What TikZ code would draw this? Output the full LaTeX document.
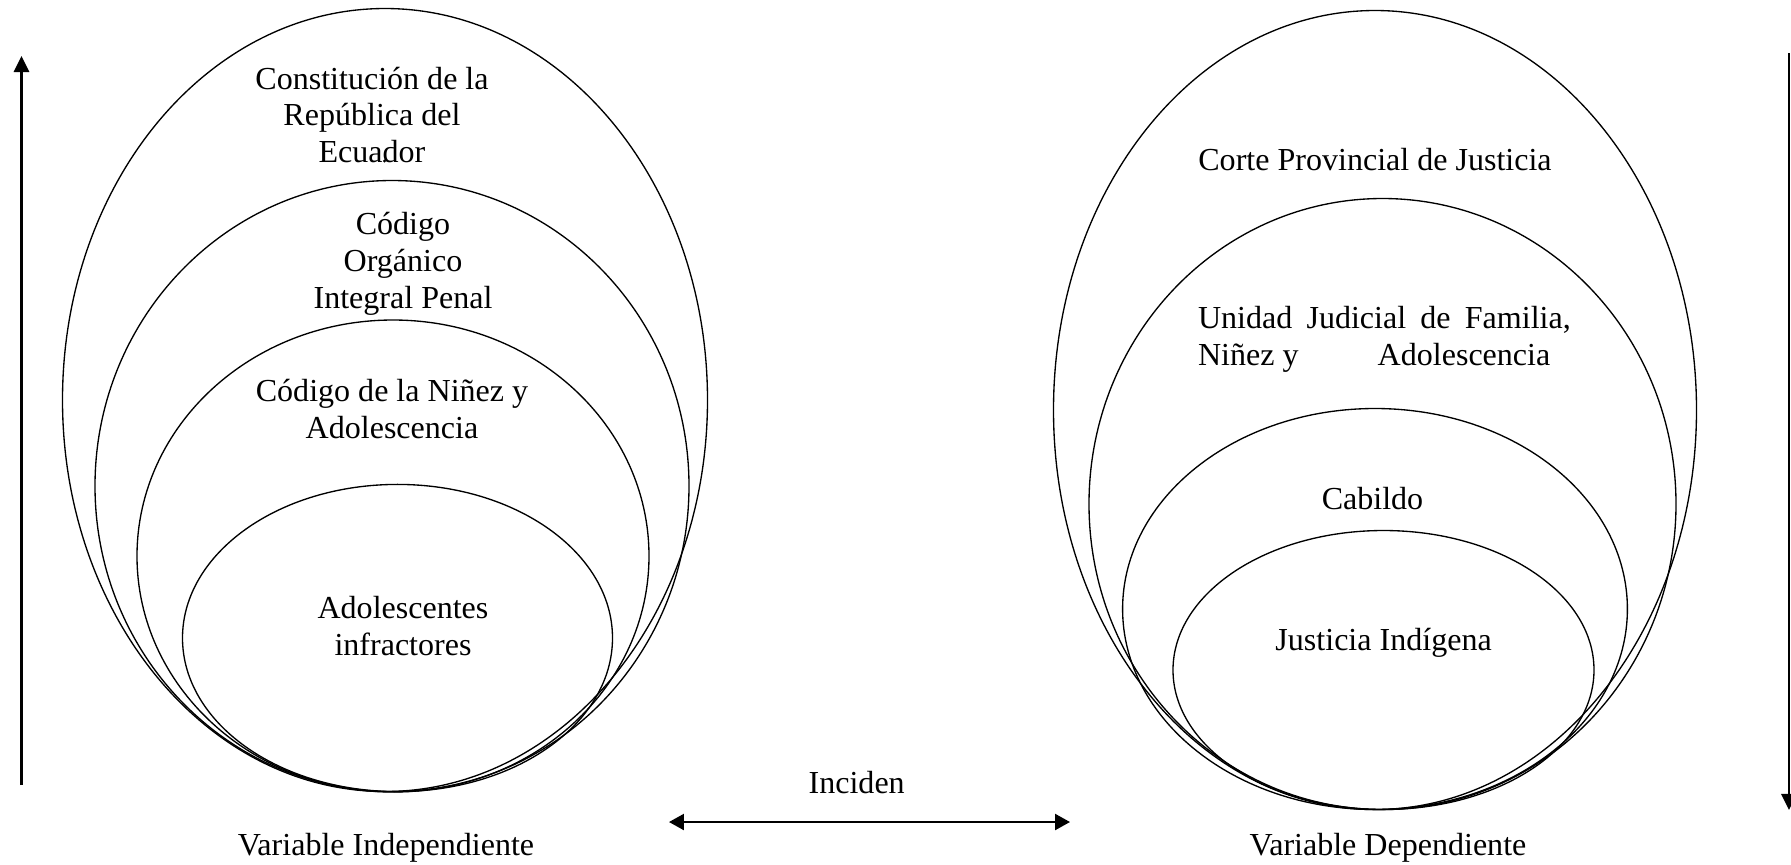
\documentclass[tikz,border=0pt]{standalone}
\usepackage{fontspec}
\setmainfont{Liberation Serif}
\usetikzlibrary{shapes.geometric,arrows.meta}
\begin{document}
\begin{tikzpicture}[x=0.3745pt,y=-0.3745pt,
  oval/.style 2 args={draw, ellipse, line width=0.5pt, inner sep=0pt,
    minimum width={2*#1*0.3745pt}, minimum height={2*#2*0.3745pt}},
  txt/.style={font=\fontsize{12}{13.8}\selectfont, align=center, inner sep=0pt},
  axis/.style={line width=1pt, -{Triangle[length=6pt,width=5.7pt]}},
  link/.style={line width=0.8pt,
    {Triangle[length=5.6pt,width=6pt]}-{Triangle[length=5.6pt,width=6pt]}}]
\useasboundingbox (0,0) rectangle (1791,864);

% independent variable: nested rings
\node[oval={322.5}{391.5}] (l1) at (385,400) {};
\node[oval={297}{305.5}]   (l2) at (392,486) {};
\node[oval={256}{236}]     (l3) at (393,556) {};
\node[oval={215}{153.6}]   (l4) at (397.5,638) {};

\node[txt] (tl1) at (372,115) {Constitución de la\\República del\\Ecuador};
\fill (384.5,161) circle [radius=0.6pt];
\node[txt] (tl2) at (403,263.5) {Código\\Orgánico\\Integral Penal};
\node[txt] (tl3) at (392,409) {Código de la Niñez y\\Adolescencia};
\node[txt] (tl4) at (403,626) {Adolescentes\\infractores};
\node[txt] (vi)  at (386,848) {Variable Independiente};

% dependent variable: nested rings
\node[oval={321.5}{399.5}] (r1) at (1375,410) {};
\node[oval={293.5}{305.5}] (r2) at (1382.5,504) {};
\node[oval={252.4}{200.5}] (r3) at (1375,609) {};
\node[oval={210.5}{139.5}] (r4) at (1383.5,670) {};

\node[txt] (tr1) at (1375,159.5) {Corte Provincial de Justicia};
\node[txt, align=left] (tr2) at (1384.4,339.5)
  {\makebox[139.6pt][s]{Unidad Judicial de Familia,}\\\makebox[67.3pt][l]{Niñez y}Adolescencia};
\node[txt] (tr3) at (1372.5,498.8) {Cabildo};
\node[txt] (tr4) at (1383.6,642.8) {Justicia Indígena};
\node[txt] (vd)  at (1388,848) {Variable Dependiente};

% side arrows
\coordinate (lb) at (21.5,785);
\coordinate (lt) at (21.5,56);
\coordinate (rt) at (1789,53);
\coordinate (rb) at (1789,810);
\draw[axis] (lb) -- (lt);
\draw[axis] (rt) -- (rb);

% link between the two variables
\coordinate (ha) at (669,822);
\coordinate (hb) at (1070,822);
\draw[link] (ha) -- (hb);
\node[txt] (inc) at (856.7,783) {Inciden};
\end{tikzpicture}
\end{document}
